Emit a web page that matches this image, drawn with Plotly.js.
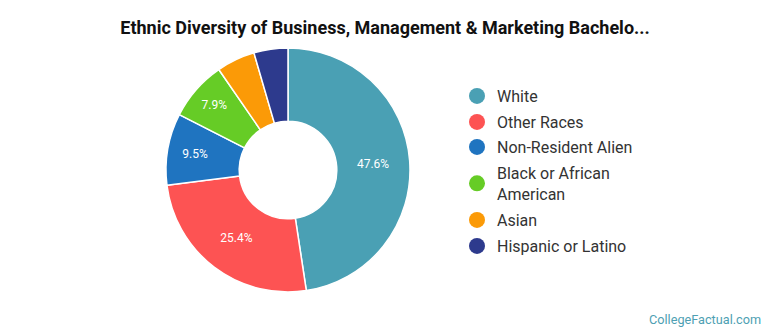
<!DOCTYPE html>
<html>
<head>
<meta charset="utf-8">
<script src="https://cdn.plot.ly/plotly-3.0.1.min.js"></script>
<style>html,body{margin:0;padding:0;background:#fff;}#chart{width:770px;height:335px;}</style>
</head>
<body>
<div id="chart"></div>
<script>
const categories = ["White", "Other Races", "Non-Resident Alien", "Black or African American", "Asian", "Hispanic or Latino"];
const legendNames = ["White", "Other Races", "Non-Resident Alien", "Black or African<br>American", "Asian", "Hispanic or Latino"];
const shares = [47.6, 25.4, 9.5, 7.9, 5.1, 4.5];
const colors = ["#4aa0b4", "#fd5353", "#1f74c0", "#66cc26", "#fb9a07", "#2d3a8d"];

const sliceText = shares.map(v => v >= 7 ? v.toFixed(1) + "%" : "");

const W = 770, H = 335;
const cx = 288, cy = 170, r = 122;

const pie = {
  type: "pie",
  labels: categories,
  values: shares,
  sort: false,
  direction: "clockwise",
  rotation: 0,
  hole: 0.4,
  text: sliceText,
  textinfo: "text",
  textposition: "inside",
  insidetextorientation: "horizontal",
  textfont: {family: "Roboto, sans-serif", size: 12, color: "#ffffff"},
  marker: {colors: colors, line: {color: "#ffffff", width: 1.5}},
  showlegend: false,
  domain: {x: [(cx - r) / W, (cx + r) / W], y: [(H - cy - r) / H, (H - cy + r) / H]},
  hoverinfo: "label+percent"
};

// one legend per entry so each row sits where the reference puts it
const legendTops = [79, 105, 130, 156, 203, 229];
const legendIds = categories.map((c, i) => i === 0 ? "legend" : "legend" + (i + 1));

const legendTraces = categories.map((c, i) => ({
  type: "scatter",
  mode: "markers",
  x: [null], y: [null],
  name: legendNames[i],
  legend: legendIds[i],
  marker: {color: colors[i], size: 16, symbol: "circle"},
  showlegend: true,
  hoverinfo: "skip"
}));

const layout = {
  width: W, height: H,
  margin: {l: 0, r: 0, t: 0, b: 0},
  paper_bgcolor: "#ffffff",
  plot_bgcolor: "#ffffff",
  title: {
    text: "<b>Ethnic Diversity of Business, Management &amp; Marketing Bachelo...</b>",
    font: {family: "Roboto, sans-serif", size: 18, color: "#111111"},
    x: 0.5, xanchor: "center", y: 1 - 28 / H, yanchor: "middle"
  },
  xaxis: {visible: false, domain: [0.99, 1]},
  yaxis: {visible: false, domain: [0.99, 1]},
  annotations: [{
    text: "CollegeFactual.com",
    xref: "paper", yref: "paper",
    x: 1 - 7 / W, y: 6 / H, xanchor: "right", yanchor: "bottom",
    showarrow: false,
    font: {family: "Roboto, sans-serif", size: 12.7, color: "#4e9fb3"}
  }]
};

legendIds.forEach((id, i) => {
  layout[id] = {
    x: 457 / W, xanchor: "left",
    y: 1 - legendTops[i] / H, yanchor: "top",
    font: {family: "Roboto, sans-serif", size: 16, color: "#333333"},
    bgcolor: "rgba(0,0,0,0)",
    itemsizing: "trace"
  };
});

Plotly.newPlot("chart", [pie].concat(legendTraces), layout, {displayModeBar: false, staticPlot: true});
</script>
</body>
</html>
